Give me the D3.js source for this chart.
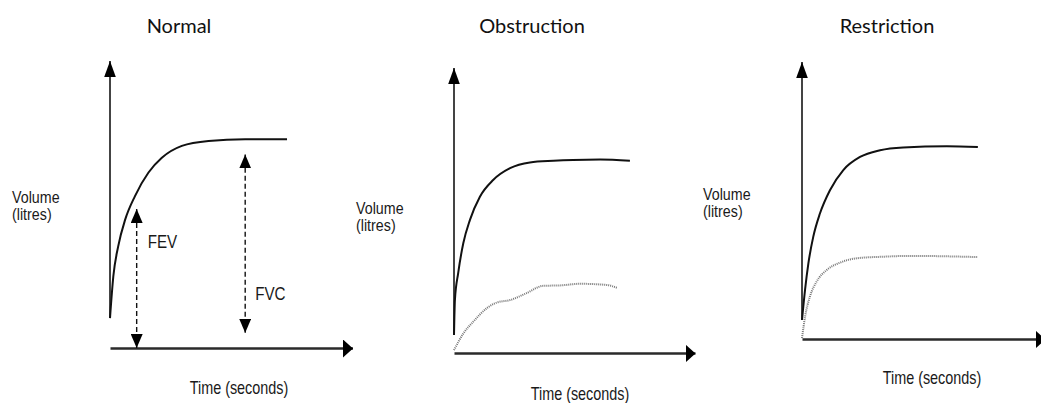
<!DOCTYPE html>
<html>
<head>
<meta charset="utf-8">
<script src="https://cdn.jsdelivr.net/npm/d3@7"></script>
<style>
  html, body { margin: 0; padding: 0; background: #fff; }
  svg { display: block; }
  .title { font-family: Lato, "Open Sans", sans-serif; font-size: 20px; fill: #111; }
  .lab { font-family: "Liberation Sans", Arial, sans-serif; font-size: 18px; fill: #1a1a1a; }
</style>
</head>
<body>
<svg id="chart" width="1041" height="403"></svg>
<script>
// Spirometry volume-time curves: normal, obstructive and restrictive patterns.
// Each curve is a list of [time in seconds, volume in litres].
const panelTitles = ["Normal", "Obstruction", "Restriction"];
const xLabel = "Time (seconds)";
const yLabel = ["Volume", "(litres)"];

const normalCurve = [
  [0, 0.73], [0.11, 1.75], [0.27, 2.48], [0.50, 3.13], [0.82, 3.70], [1.27, 4.28],
  [1.71, 4.64], [2.37, 4.93], [3.25, 5.05], [4.46, 5.09], [5.84, 5.09]
];
const obstructionCurve = [
  [0, 0.44], [0.03, 1.30], [0.14, 1.97], [0.31, 2.70], [0.53, 3.27], [0.86, 3.84],
  [1.30, 4.25], [1.86, 4.54], [2.52, 4.68], [3.30, 4.72], [3.95, 4.74], [4.85, 4.75], [5.84, 4.72]
];
const obstructionReduced = [
  [0, 0.07], [0.31, 0.48], [0.64, 0.77], [1.09, 1.10], [1.42, 1.24], [1.86, 1.30],
  [2.41, 1.47], [2.96, 1.65], [3.52, 1.66], [4.18, 1.70], [5.08, 1.67], [5.41, 1.60]
];
const restrictionCurve = [
  [0, 0.48], [0.10, 1.24], [0.21, 1.91], [0.37, 2.58], [0.59, 3.17], [0.92, 3.76],
  [1.36, 4.27], [1.91, 4.60], [2.57, 4.77], [3.33, 4.84], [4.77, 4.87], [5.79, 4.85]
];
const restrictionReduced = [
  [0, 0.02], [0.10, 0.56], [0.26, 1.07], [0.48, 1.45], [0.81, 1.74], [1.25, 1.93],
  [1.80, 2.04], [2.68, 2.08], [3.56, 2.10], [5.79, 2.07]
];
// Measured spans on the normal trace: [time, volume from, volume to]
const fevSpan = [0.88, 0.0, 3.39];
const fvcSpan = [4.46, 0.37, 4.72];
const spanLabels = ["FEV", "FVC"];

const tMax = 8;   // time at the arrow tip of each x axis
const vMax = 7;   // volume at the arrow tip of each y axis

const svg = d3.select("#chart");
const defs = svg.append("defs");

function marker(id, d, w, h, color) {
  defs.append("marker")
    .attr("id", id)
    .attr("markerUnits", "userSpaceOnUse")
    .attr("viewBox", `0 ${-h / 2} ${w} ${h}`)
    .attr("refX", w).attr("refY", 0)
    .attr("markerWidth", w).attr("markerHeight", h)
    .attr("orient", "auto-start-reverse")
    .append("path").attr("d", d).attr("fill", color);
}
marker("xHead", "M0,-9L10,0L0,9Z", 10, 18, "#000");
marker("yHead", "M0,-5.8L16,0L0,5.8Z", 16, 12, "#000");
marker("span", "M0,-6L14,0L0,6Z", 14, 12, "#000");

// Condensed label: regular sans squeezed horizontally; lines stack as tspans
function narrowText(parent, x, y, lines, anchor, size, squeeze, lead) {
  const t = parent.append("text").attr("class", "lab")
    .attr("transform", `translate(${x},${y}) scale(${squeeze || 0.8},1)`)
    .attr("text-anchor", anchor || "start");
  [].concat(lines).forEach((s, k) => {
    t.append("tspan").attr("x", 0).attr("dy", k === 0 ? 0 : (lead || 17)).text(s);
  });
  if (size) t.style("font-size", size + "px");
  return t;
}

const panels = [
  { title: panelTitles[0], x0: 110, y0: 348, xTip: 352.5, yTip: 61, solid: normalCurve, dotted: null,
    titleX: 179, titleY: 33, volX: 12, volY: 203, timeX: 239, timeY: 394 },
  { title: panelTitles[1], x0: 454, y0: 353, xTip: 695, yTip: 68, solid: obstructionCurve, dotted: obstructionReduced,
    titleX: 532, titleY: 33, volX: 356, volY: 214, timeX: 580, timeY: 399.5 },
  { title: panelTitles[2], x0: 802, y0: 339, xTip: 1045, yTip: 62, solid: restrictionCurve, dotted: restrictionReduced,
    titleX: 887, titleY: 33, volX: 703, volY: 200, timeX: 932, timeY: 384 }
];

panels.forEach((p, i) => {
  const x = d3.scaleLinear().domain([0, tMax]).range([p.x0, p.xTip]);
  const y = d3.scaleLinear().domain([0, vMax]).range([p.y0, p.yTip]);
  const g = svg.append("g");

  const line = d3.line().x(d => x(d[0])).y(d => y(d[1])).curve(d3.curveMonotoneX);

  // x axis: bare domain line with an arrowhead
  const xAxis = g.append("g").attr("transform", `translate(0,${p.y0})`)
    .call(d3.axisBottom(x).ticks(0).tickSizeOuter(0));
  xAxis.select(".domain").attr("stroke", "#2a2a2a").attr("stroke-width", 2.4)
    .attr("marker-end", "url(#xHead)");

  // y axis rises from the start of the trace
  g.append("line")
    .attr("x1", x(0)).attr("x2", x(0))
    .attr("y1", y(p.solid[0][1])).attr("y2", y(vMax))
    .attr("stroke", "#444").attr("stroke-width", 2)
    .attr("marker-end", "url(#yHead)");

  g.append("path").datum(p.solid).attr("d", line)
    .attr("fill", "none").attr("stroke", "#111").attr("stroke-width", 2);

  if (p.dotted) {
    g.append("path").datum(p.dotted).attr("d", line)
      .attr("fill", "none").attr("stroke", "#777").attr("stroke-width", 2)
      .attr("stroke-dasharray", "1,1");
  }

  if (i === 0) {
    [fevSpan, fvcSpan].forEach(s => {
      g.append("line")
        .attr("x1", x(s[0])).attr("x2", x(s[0]))
        .attr("y1", y(s[1])).attr("y2", y(s[2]))
        .attr("stroke", "#111").attr("stroke-width", 1.4)
        .attr("stroke-dasharray", "5,3")
        .attr("marker-start", "url(#span)")
        .attr("marker-end", "url(#span)");
    });
    narrowText(g, x(fevSpan[0]) + 11, 248, spanLabels[0], "start", 19);
    narrowText(g, x(fvcSpan[0]) + 10, 300, spanLabels[1], "start", 19);
  }

  g.append("text").attr("class", "title").attr("text-anchor", "middle")
    .attr("x", p.titleX).attr("y", p.titleY).text(p.title);

  narrowText(g, p.volX, p.volY, yLabel, "start", 17, 0.84, 17);

  narrowText(g, p.timeX, p.timeY, xLabel, "middle");
});
</script>
</body>
</html>
